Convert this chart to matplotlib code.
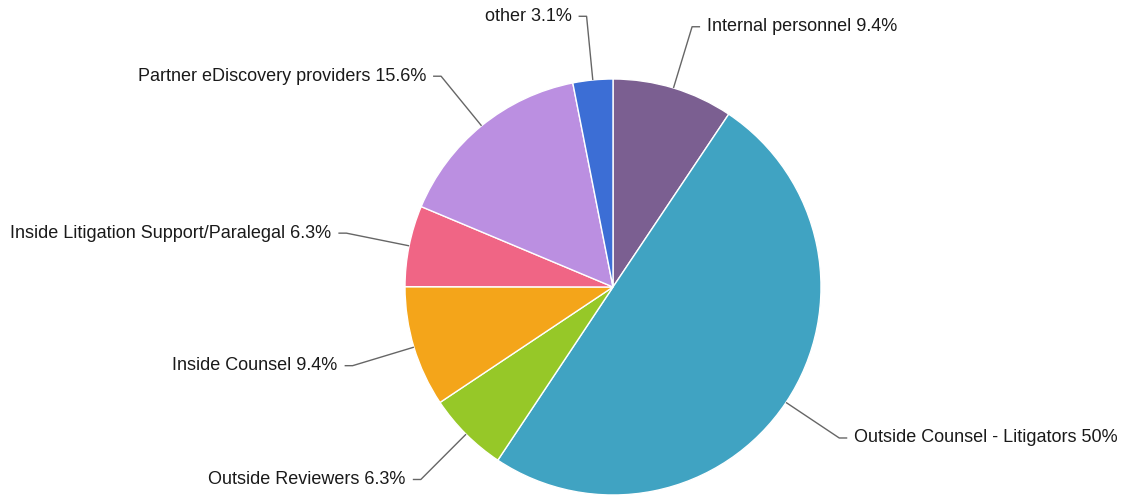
import numpy as np
import matplotlib
matplotlib.use("Agg")
import matplotlib.pyplot as plt

labels = ["Internal personnel", "Outside Counsel - Litigators", "Outside Reviewers",
          "Inside Counsel", "Inside Litigation Support/Paralegal",
          "Partner eDiscovery providers", "other"]
percents = [9.4, 50, 6.3, 9.4, 6.3, 15.6, 3.1]
pct_text = ["9.4%", "50%", "6.3%", "9.4%", "6.3%", "15.6%", "3.1%"]
colors = ["#7B5F91", "#40A3C2", "#96C828", "#F4A51A", "#F06585", "#BB8FE1", "#3C6ED5"]

plt.rcParams['font.family'] = ['Liberation Sans', 'DejaVu Sans']

W, H = 1122, 495
fig = plt.figure(figsize=(W / 100, H / 100), dpi=100)
ax = fig.add_axes([0, 0, 1, 1])

cx, cy, R = 613, 208, 208
wedges, _ = ax.pie(percents, colors=colors, startangle=90, counterclock=False,
                   radius=R, center=(cx, cy), frame=True,
                   wedgeprops=dict(edgecolor='white', linewidth=1))
ax.set_xlim(0, W)
ax.set_ylim(0, H)
ax.set_aspect('equal')
ax.axis('off')

Rlab = 272
for w, lab, pt in zip(wedges, labels, pct_text):
    ang = np.deg2rad((w.theta1 + w.theta2) / 2)
    x0, y0 = cx + R * np.cos(ang), cy + R * np.sin(ang)
    x1, y1 = cx + Rlab * np.cos(ang), cy + Rlab * np.sin(ang)
    side = 1 if np.cos(ang) >= 0 else -1
    x2 = x1 + side * 8
    ax.plot([x0, x1, x2], [y0, y1, y1], color='#666666', lw=1, solid_capstyle='butt')
    ax.text(x2 + side * 7, y1, f"{lab} {pt}", ha='left' if side > 0 else 'right',
            va='center', fontsize=13, color='#1a1a1a')

fig.savefig("out.png", dpi=100, facecolor='white')
